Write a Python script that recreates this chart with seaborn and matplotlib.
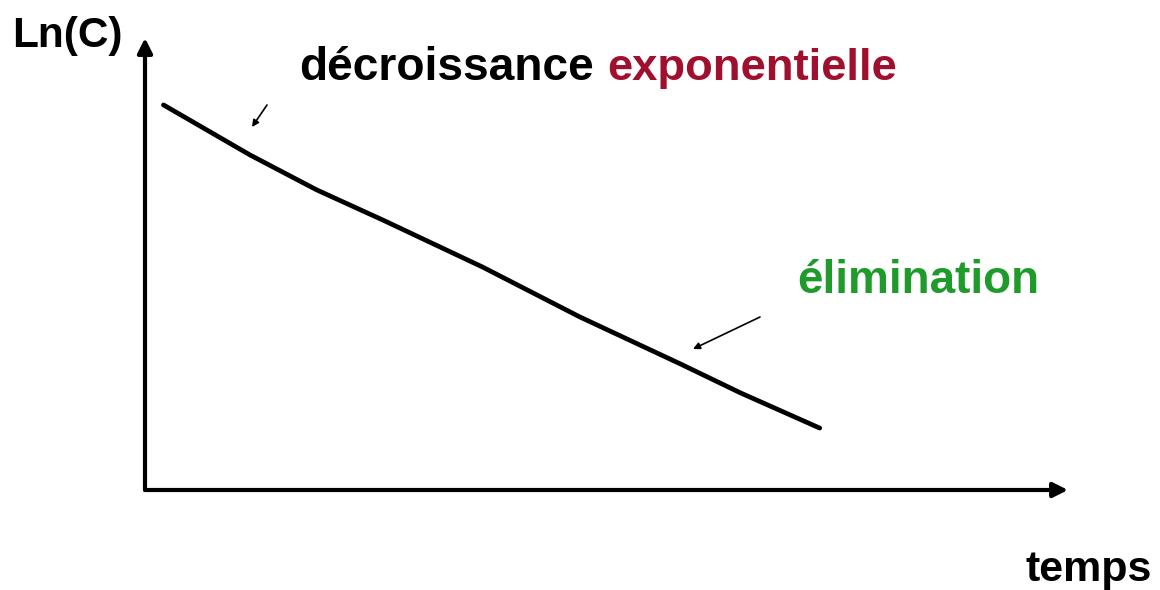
import matplotlib
matplotlib.use("Agg")
import matplotlib.pyplot as plt
import seaborn as sns
import pandas as pd

temps = [0.20, 1.14, 1.86, 2.58, 3.66, 4.71, 5.80, 6.45, 7.31]
ln_c = [8.52, 7.41, 6.64, 5.97, 4.93, 3.83, 2.79, 2.15, 1.37]

df = pd.DataFrame({'temps': temps, 'ln_c': ln_c})

sns.set_style("white")
plt.rcParams['font.family'] = ['Liberation Sans', 'DejaVu Sans']
plt.rcParams['text.color'] = 'black'

W, H = 1160, 590
fig = plt.figure(figsize=(W / 100, H / 100), dpi=100)
ax = fig.add_axes([145 / W, (H - 490) / H, (1068 - 145) / W, (490 - 38) / H])

sns.lineplot(data=df, x='temps', y='ln_c', ax=ax, color='black', linewidth=3.4)
ax.set_xlim(0, 10)
ax.set_ylim(0, 10)
ax.set_xticks([])
ax.set_yticks([])
ax.set_xlabel('')
ax.set_ylabel('')
for s in ax.spines.values():
    s.set_visible(False)

# axes avec flèches
arr = dict(arrowstyle='-|>', lw=3, color='black', mutation_scale=22,
           shrinkA=0, shrinkB=0)
ax.annotate('', xy=(1, 0), xytext=(0, 0), xycoords='axes fraction', arrowprops=arr)
ax.annotate('', xy=(0, 1), xytext=(0, 0), xycoords='axes fraction', arrowprops=arr)

# petites flèches vers la courbe
thin = dict(arrowstyle='-|>', lw=1.2, color='black', mutation_scale=10,
            shrinkA=0, shrinkB=0)
ax.annotate('', xy=(252 / W, 1 - 127 / H), xytext=(267 / W, 1 - 105 / H),
            xycoords='figure fraction', arrowprops=thin)
ax.annotate('', xy=(693 / W, 1 - 349 / H), xytext=(760 / W, 1 - 317 / H),
            xycoords='figure fraction', arrowprops=thin)

# textes
fig.text(12 / W, 1 - 47 / H, 'Ln(C)', fontsize=30.5, fontweight='bold', va='baseline')
fig.text(299 / W, 1 - 80 / H, 'décroissance', fontsize=33.2, fontweight='bold',
         va='baseline', color='black')
fig.text(607 / W, 1 - 80 / H, 'exponentielle', fontsize=32.7, fontweight='bold',
         va='baseline', color='#A0102E')
fig.text(797 / W, 1 - 293 / H, 'élimination', fontsize=33, fontweight='bold',
         va='baseline', color='#1F9B2B')
fig.text(1025 / W, 1 - 581 / H, 'temps', fontsize=31, fontweight='bold', va='baseline')

fig.savefig('out.png', dpi=100, facecolor='white')
